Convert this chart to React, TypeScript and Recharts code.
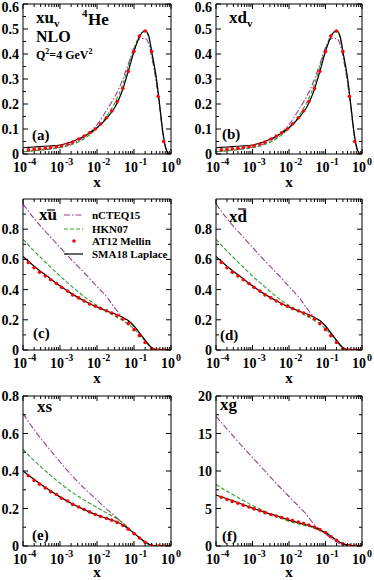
import React from "react";
import { ComposedChart, Line, XAxis, YAxis } from "recharts";

// x grids (log axis)
const X_LINE = [1e-4, 2e-4, 5e-4, 1e-3, 2e-3, 5e-3, 0.01, 0.02, 0.03, 0.05, 0.07, 0.1, 0.15, 0.2, 0.25, 0.3, 0.4, 0.5, 0.6, 0.7, 0.8, 0.9, 1.0];
const X_DOT = [1.4e-4, 2e-4, 2.8e-4, 4e-4, 5.6e-4, 8e-4, 1.1e-3, 1.6e-3, 2.2e-3, 3.2e-3, 4.5e-3, 6.3e-3, 9e-3, 0.0125, 0.018, 0.025, 0.035, 0.05, 0.07, 0.1, 0.14, 0.2, 0.3, 0.45, 0.63, 0.95];

// (a),(b) valence
const UV_NCTEQ = [0.009, 0.013, 0.02, 0.027, 0.04, 0.074, 0.117, 0.185, 0.228, 0.3, 0.36, 0.425, 0.462, 0.462, 0.44, 0.39, 0.285, 0.178, 0.082, 0.028, 0.006, 0.001, 0];
const UV_HKN = [0.009, 0.013, 0.019, 0.025, 0.036, 0.066, 0.103, 0.16, 0.203, 0.28, 0.348, 0.42, 0.48, 0.49, 0.468, 0.405, 0.298, 0.185, 0.085, 0.03, 0.006, 0.001, 0];
const UV_SMA = [0.025, 0.028, 0.032, 0.036, 0.048, 0.075, 0.105, 0.15, 0.185, 0.26, 0.33, 0.41, 0.477, 0.494, 0.472, 0.41, 0.305, 0.19, 0.09, 0.032, 0.007, 0.001, 0];
const UV_AT12 = [0.017, 0.019, 0.021, 0.023, 0.026, 0.029, 0.033, 0.04, 0.048, 0.06, 0.072, 0.085, 0.1, 0.12, 0.145, 0.172, 0.21, 0.262, 0.33, 0.41, 0.472, 0.492, 0.41, 0.23, 0.05, 0];

// (c),(d) sea antiquarks
const SEA_NCTEQ = [0.967, 0.87, 0.76, 0.68, 0.6, 0.5, 0.42, 0.34, 0.28, 0.215, 0.19, 0.155, 0.1, 0.062, 0.033, 0.013, 0.002, 0, 0, 0, 0, 0, 0];
const SEA_HKN = [0.733, 0.655, 0.56, 0.49, 0.425, 0.345, 0.295, 0.25, 0.225, 0.195, 0.17, 0.14, 0.095, 0.058, 0.03, 0.012, 0.002, 0, 0, 0, 0, 0, 0];
const SEA_SMA = [0.62, 0.555, 0.48, 0.425, 0.375, 0.32, 0.285, 0.255, 0.24, 0.215, 0.195, 0.16, 0.105, 0.065, 0.035, 0.015, 0.003, 0, 0, 0, 0, 0, 0];
const SEA_AT12 = [0.58, 0.545, 0.515, 0.49, 0.465, 0.44, 0.415, 0.39, 0.365, 0.345, 0.325, 0.305, 0.29, 0.275, 0.26, 0.245, 0.228, 0.205, 0.175, 0.135, 0.095, 0.05, 0.01, 0, 0, 0];

// (e) strange
const S_NCTEQ = [0.706, 0.62, 0.52, 0.448, 0.38, 0.3, 0.245, 0.19, 0.16, 0.122, 0.095, 0.068, 0.038, 0.02, 0.009, 0.003, 0, 0, 0, 0, 0, 0, 0];
const S_HKN = [0.516, 0.455, 0.385, 0.335, 0.29, 0.24, 0.205, 0.172, 0.153, 0.123, 0.097, 0.07, 0.04, 0.022, 0.01, 0.003, 0, 0, 0, 0, 0, 0, 0];
const S_SMA = [0.4, 0.355, 0.3, 0.262, 0.228, 0.19, 0.165, 0.145, 0.133, 0.112, 0.092, 0.068, 0.04, 0.022, 0.01, 0.003, 0, 0, 0, 0, 0, 0, 0];
const S_AT12 = [0.375, 0.35, 0.33, 0.31, 0.29, 0.275, 0.255, 0.24, 0.222, 0.208, 0.195, 0.182, 0.168, 0.157, 0.148, 0.138, 0.126, 0.11, 0.09, 0.066, 0.043, 0.02, 0.003, 0, 0, 0];

// (f) gluon
const G_NCTEQ = [17.3, 15.6, 13.4, 11.8, 10.2, 8.1, 6.6, 5.1, 4.2, 2.8, 2.2, 1.6, 0.95, 0.55, 0.3, 0.17, 0.05, 0.01, 0, 0, 0, 0, 0];
const G_HKN = [8.2, 7.3, 6.2, 5.4, 4.7, 3.85, 3.3, 2.9, 2.7, 2.35, 2.05, 1.75, 1.2, 0.8, 0.5, 0.3, 0.1, 0.03, 0, 0, 0, 0, 0];
const G_SMA = [6.8, 6.3, 5.6, 5.05, 4.55, 3.95, 3.45, 3.05, 2.8, 2.5, 2.15, 1.8, 1.2, 0.8, 0.5, 0.32, 0.12, 0.04, 0.01, 0, 0, 0, 0];
const G_AT12 = [6.5, 6.2, 5.95, 5.7, 5.45, 5.2, 4.95, 4.7, 4.45, 4.2, 4.0, 3.8, 3.6, 3.4, 3.2, 3.0, 2.8, 2.5, 2.2, 1.8, 1.25, 0.75, 0.3, 0.06, 0, 0];

// ticks
const X_MAJOR = [1e-4, 1e-3, 1e-2, 1e-1, 1];
const X_EXP = ["-4", "-3", "-2", "-1", "0"];
const X_MINOR = [1e-4, 1e-3, 1e-2, 1e-1].flatMap((d) => [2, 3, 4, 5, 6, 7, 8, 9].map((k) => k * d));
const X_TICKS = [...X_MAJOR, ...X_MINOR];

const FONT = "'Liberation Serif', 'Times New Roman', serif";
const COL_NCTEQ = "#993d8f";
const COL_HKN = "#2ca02c";
const COL_AT12 = "#ff0000";

const pts = (xs: number[], ys: number[]) => xs.map((x, i) => ({ x, y: ys[i] }));
const fmt1 = (v: number) => (v === 0 ? "0" : v.toFixed(1));
const fmt0 = (v: number) => String(v);

type Panel = {
  key: string;
  left: number; top: number; width: number; height: number;
  padL: number; padR: number; padT: number; padB: number;
  yMax: number; yMajor: number[]; yMinor: number[]; yFmt: (v: number) => string;
  ncteq: number[]; hkn: number[]; sma: number[]; at12: number[];
};

const PANELS: Panel[] = [
  { key: "a", left: 0, top: 0, width: 187, height: 190, padL: 23, padR: 16, padT: 4, padB: 36,
    yMax: 0.6, yMajor: [0, 0.1, 0.2, 0.3, 0.4, 0.5, 0.6], yMinor: [0.05, 0.15, 0.25, 0.35, 0.45, 0.55], yFmt: fmt1,
    ncteq: UV_NCTEQ, hkn: UV_HKN, sma: UV_SMA, at12: UV_AT12 },
  { key: "b", left: 187, top: 0, width: 187, height: 190, padL: 29, padR: 12, padT: 4, padB: 36,
    yMax: 0.6, yMajor: [0, 0.1, 0.2, 0.3, 0.4, 0.5, 0.6], yMinor: [0.05, 0.15, 0.25, 0.35, 0.45, 0.55], yFmt: fmt1,
    ncteq: UV_NCTEQ, hkn: UV_HKN, sma: UV_SMA, at12: UV_AT12 },
  { key: "c", left: 0, top: 190, width: 187, height: 195, padL: 23, padR: 16, padT: 9, padB: 35,
    yMax: 1.0, yMajor: [0, 0.2, 0.4, 0.6, 0.8], yMinor: [0.1, 0.3, 0.5, 0.7, 0.9], yFmt: fmt1,
    ncteq: SEA_NCTEQ, hkn: SEA_HKN, sma: SEA_SMA, at12: SEA_AT12 },
  { key: "d", left: 187, top: 190, width: 187, height: 195, padL: 29, padR: 12, padT: 9, padB: 35,
    yMax: 1.0, yMajor: [0, 0.2, 0.4, 0.6, 0.8], yMinor: [0.1, 0.3, 0.5, 0.7, 0.9], yFmt: fmt1,
    ncteq: SEA_NCTEQ, hkn: SEA_HKN, sma: SEA_SMA, at12: SEA_AT12 },
  { key: "e", left: 0, top: 385, width: 187, height: 195, padL: 23, padR: 16, padT: 11, padB: 34,
    yMax: 0.8, yMajor: [0, 0.2, 0.4, 0.6, 0.8], yMinor: [0.1, 0.3, 0.5, 0.7], yFmt: fmt1,
    ncteq: S_NCTEQ, hkn: S_HKN, sma: S_SMA, at12: S_AT12 },
  { key: "f", left: 187, top: 385, width: 187, height: 195, padL: 29, padR: 12, padT: 11, padB: 34,
    yMax: 20, yMajor: [0, 5, 10, 15, 20], yMinor: [2.5, 7.5, 12.5, 17.5], yFmt: fmt0,
    ncteq: G_NCTEQ, hkn: G_HKN, sma: G_SMA, at12: G_AT12 },
];

const tickText = { fontFamily: FONT, fontWeight: 700, fontSize: 14, fill: "#000" } as const;

const BottomTick = (props: any) => {
  const { x, y, payload } = props;
  const i = X_MAJOR.indexOf(payload.value);
  return (
    <g>
      <line x1={x} x2={x} y1={y} y2={y - (i >= 0 ? 5 : 3)} stroke="#000" />
      {i >= 0 && (
        <>
          <text x={x + 4} y={y + 18} textAnchor="end" style={tickText}>10</text>
          <text x={x + 5} y={y + 11} textAnchor="start" style={{ ...tickText, fontSize: 10 }}>{X_EXP[i]}</text>
        </>
      )}
    </g>
  );
};

const TopTick = (props: any) => {
  const { x, y, payload } = props;
  const major = X_MAJOR.includes(payload.value);
  return <line x1={x} x2={x} y1={y} y2={y + (major ? 5 : 3)} stroke="#000" />;
};

const makeLeftTick = (p: Panel) => (props: any) => {
  const { x, y, payload } = props;
  const major = p.yMajor.includes(payload.value);
  return (
    <g>
      <line x1={x} x2={x + (major ? 5 : 3)} y1={y} y2={y} stroke="#000" />
      {major && (
        <text x={x - 4} y={Math.max(y, 7) + 5} textAnchor="end" style={tickText}>{p.yFmt(payload.value)}</text>
      )}
    </g>
  );
};

const makeRightTick = (p: Panel) => (props: any) => {
  const { x, y, payload } = props;
  const major = p.yMajor.includes(payload.value);
  return <line x1={x} x2={x - (major ? 5 : 3)} y1={y} y2={y} stroke="#000" />;
};

function PanelChart({ p }: { p: Panel }) {
  const yTicks = [...p.yMajor, ...p.yMinor];
  return (
    <div style={{ position: "absolute", left: p.left, top: p.top }}>
      <ComposedChart width={p.width} height={p.height} margin={{ top: 0, right: 0, bottom: 0, left: 0 }}>
        <XAxis dataKey="x" type="number" scale="log" domain={[1e-4, 1]} allowDataOverflow ticks={X_TICKS} interval={0}
          height={p.padB} tickSize={0} tickMargin={0} tickLine={false} axisLine={{ stroke: "#000" }} tick={BottomTick} />
        <XAxis xAxisId="top" orientation="top" dataKey="x" type="number" scale="log" domain={[1e-4, 1]} allowDataOverflow
          ticks={X_TICKS} interval={0} height={p.padT} tickSize={0} tickMargin={0} tickLine={false}
          axisLine={{ stroke: "#000" }} tick={TopTick} />
        <YAxis dataKey="y" type="number" domain={[0, p.yMax]} allowDataOverflow ticks={yTicks} interval={0}
          width={p.padL} tickSize={0} tickMargin={0} tickLine={false} axisLine={{ stroke: "#000" }} tick={makeLeftTick(p)} />
        <YAxis yAxisId="right" orientation="right" type="number" domain={[0, p.yMax]} allowDataOverflow ticks={yTicks}
          interval={0} width={p.padR} tickSize={0} tickMargin={0} tickLine={false} axisLine={{ stroke: "#000" }}
          tick={makeRightTick(p)} />
        <Line data={pts(X_LINE, p.ncteq)} dataKey="y" type="monotone" stroke={COL_NCTEQ} strokeWidth={1.1}
          strokeDasharray="6 2 1.5 2" dot={false} activeDot={false} isAnimationActive={false} />
        <Line data={pts(X_LINE, p.hkn)} dataKey="y" type="monotone" stroke={COL_HKN} strokeWidth={1.1}
          strokeDasharray="4 2" dot={false} activeDot={false} isAnimationActive={false} />
        <Line data={pts(X_LINE, p.sma)} dataKey="y" type="monotone" stroke="#000" strokeWidth={1.2}
          dot={false} activeDot={false} isAnimationActive={false} />
        <Line data={pts(X_DOT, p.at12)} dataKey="y" stroke="none" activeDot={false} isAnimationActive={false}
          dot={(d: any) => <circle key={d.index} cx={d.cx} cy={d.cy} r={1.8} fill={COL_AT12} />} />
      </ComposedChart>
    </div>
  );
}

const T = { fontFamily: FONT, fontWeight: 700, fill: "#000" } as const;

function Overlay() {
  return (
    <svg width={374} height={580} style={{ position: "absolute", left: 0, top: 0, pointerEvents: "none" }}>
      {/* (a) */}
      <text x={36} y={23} fontSize={17} style={T}>xu<tspan fontSize={11} dy={4}>v</tspan></text>
      <text x={82} y={17} fontSize={11} style={T}>4</text>
      <text x={88} y={25} fontSize={17} style={T}>He</text>
      <text x={36} y={42} fontSize={16} style={T}>NLO</text>
      <text x={36} y={59} fontSize={12} style={T}>
        Q<tspan fontSize={8} dy={-5}>2</tspan><tspan dy={5}>=4 GeV</tspan><tspan fontSize={8} dy={-5}>2</tspan>
      </text>
      <text x={32} y={140} fontSize={15} style={T}>(a)</text>
      {/* (b) */}
      <text x={229} y={23} fontSize={17} style={T}>xd<tspan fontSize={11} dy={4}>v</tspan></text>
      <text x={222} y={139} fontSize={15} style={T}>(b)</text>
      {/* (c) */}
      <text x={39} y={220} fontSize={17} style={T}>xu</text>
      <line x1={47} x2={55} y1={210} y2={210} stroke="#000" strokeWidth={1.2} />
      <line x1={64} x2={83} y1={215} y2={215} stroke={COL_NCTEQ} strokeDasharray="6 2 1.5 2" />
      <text x={92} y={219} fontSize={11} style={T}>nCTEQ15</text>
      <line x1={64} x2={83} y1={229} y2={229} stroke={COL_HKN} strokeDasharray="4 2" />
      <text x={92} y={233} fontSize={11} style={T}>HKN07</text>
      <circle cx={74} cy={241} r={1.8} fill={COL_AT12} />
      <text x={92} y={245} fontSize={11} style={T}>AT12 Mellin</text>
      <line x1={64} x2={83} y1={254} y2={254} stroke="#000" strokeWidth={1.2} />
      <text x={92} y={258} fontSize={11} style={T}>SMA18 Laplace</text>
      <text x={33} y={338} fontSize={15} style={T}>(c)</text>
      {/* (d) */}
      <text x={229} y={222} fontSize={17} style={T}>xd</text>
      <line x1={238} x2={246} y1={209} y2={209} stroke="#000" strokeWidth={1.2} />
      <text x={220} y={340} fontSize={15} style={T}>(d)</text>
      {/* (e) */}
      <text x={37} y={412} fontSize={17} style={T}>xs</text>
      <text x={32} y={540} fontSize={15} style={T}>(e)</text>
      {/* (f) */}
      <text x={220} y={410} fontSize={17} style={T}>xg</text>
      <text x={222} y={541} fontSize={15} style={T}>(f)</text>
      {/* x labels */}
      {[[97, 187], [289, 187], [97, 383], [289, 383], [97, 577], [289, 577]].map(([x, y], i) => (
        <text key={i} x={x} y={y} fontSize={15} textAnchor="middle" style={T}>x</text>
      ))}
    </svg>
  );
}

export default function App() {
  return (
    <div style={{ position: "absolute", left: 0, top: 0, width: 374, height: 580, background: "#fff", overflow: "hidden" }}>
      {PANELS.map((p) => (
        <PanelChart key={p.key} p={p} />
      ))}
      <Overlay />
    </div>
  );
}
